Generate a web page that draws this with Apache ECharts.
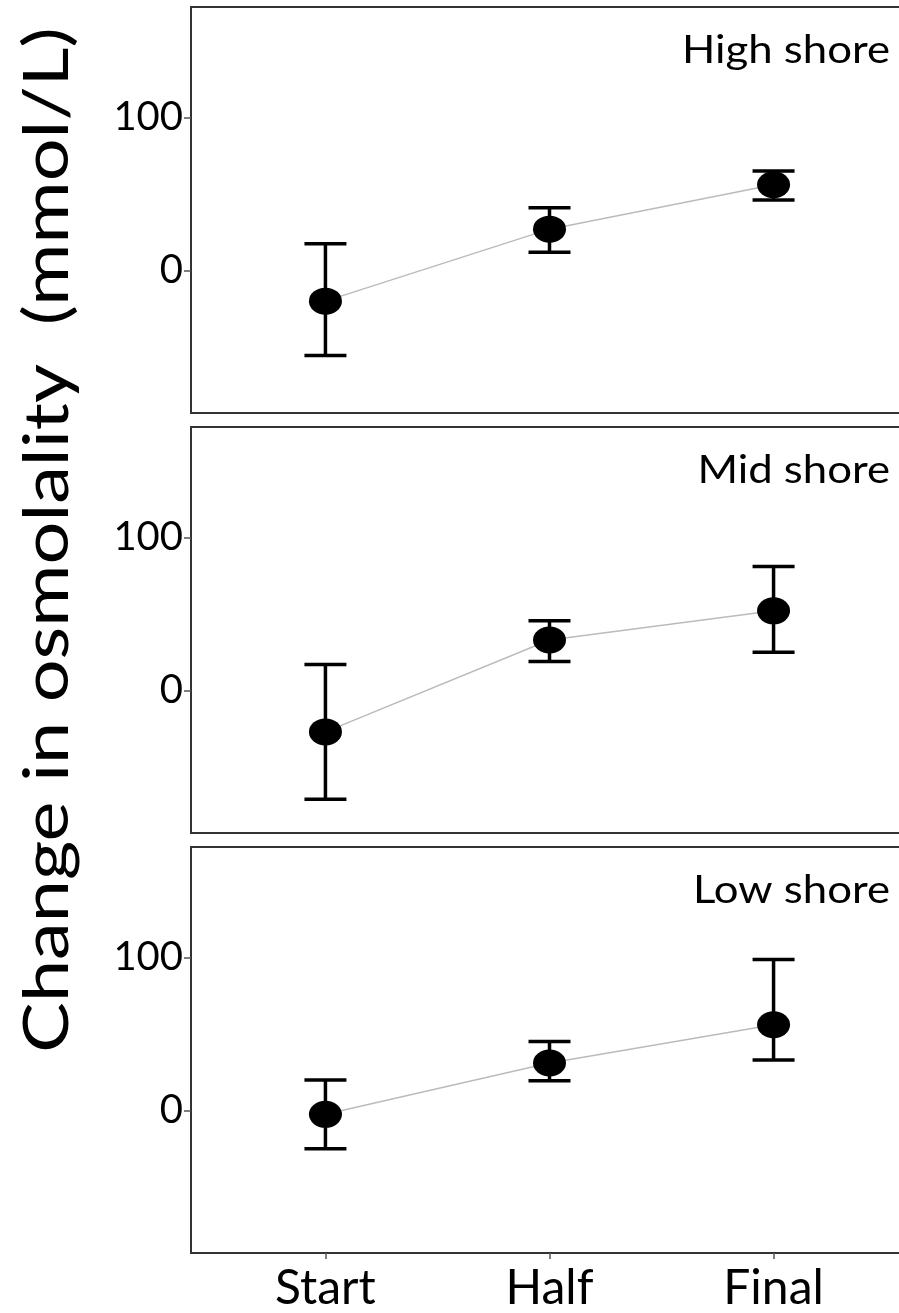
<!DOCTYPE html>
<html>
<head>
<meta charset="utf-8">
<script src="https://cdn.jsdelivr.net/npm/echarts@6/dist/echarts.min.js"></script>
<style>
  html, body { margin: 0; padding: 0; background: #fff; }
  #main { width: 899px; height: 1313px; }
</style>
</head>
<body>
<div id="main"></div>
<script>
"use strict";

// sampling times and shore levels
const categories = ['Start', 'Half', 'Final'];
const shores = ['High shore', 'Mid shore', 'Low shore'];

// mean change in osmolality (mmol/L) and error bar ends, per shore
const highMean = [-20, 27, 56];
const highLow = [-55.5, 12, 46];
const highHigh = [17.5, 41, 65];

const midMean = [-27, 33, 52];
const midLow = [-71, 19, 25];
const midHigh = [17, 45.5, 81];

const lowMean = [-2.5, 31, 56];
const lowLow = [-25, 19.5, 33];
const lowHigh = [20, 45, 98.5];

const yTicks = [0, 100];

const means = [highMean, midMean, lowMean];
const lows = [highLow, midLow, lowLow];
const highs = [highHigh, midHigh, lowHigh];

const FONT = 'Lato';
const gridTops = [7, 427, 847];
const gridHeight = 406;
const axisColor = '#333';

let myChart = echarts.init(document.getElementById('main'));

let grids = [], xAxes = [], yAxes = [], series = [], labels = [];

for (let i = 0; i < 3; i++) {
    const last = i === 2;
    grids.push({
        left: 191, top: gridTops[i], right: -9, height: gridHeight,
        outerBoundsMode: 'none', show: false
    });
    // bottom axis
    xAxes.push({
        gridIndex: i, type: 'value', min: 0.4, max: 3.6, position: 'bottom',
        splitLine: { show: false },
        axisLine: { show: true, onZero: false, lineStyle: { color: axisColor, width: 2 } },
        axisTick: {
            show: last, length: 6, customValues: [1, 2, 3],
            lineStyle: { color: '#555', width: 1.5 }
        },
        axisLabel: {
            show: last, customValues: [1, 2, 3], margin: 12,
            fontFamily: FONT, fontSize: 48, color: '#000',
            formatter: function (v) { return categories[Math.round(v) - 1]; }
        }
    });
    // top frame line
    xAxes.push({
        gridIndex: i, type: 'value', min: 0.4, max: 3.6, position: 'top',
        splitLine: { show: false },
        axisLine: { show: true, onZero: false, lineStyle: { color: axisColor, width: 2 } },
        axisTick: { show: false },
        axisLabel: { show: false }
    });
    yAxes.push({
        gridIndex: i, type: 'value', min: -93, max: 172,
        splitLine: { show: false },
        axisLine: { show: true, onZero: false, lineStyle: { color: axisColor, width: 2 } },
        axisTick: { length: 7, customValues: yTicks, lineStyle: { color: '#555', width: 1.5 } },
        axisLabel: {
            customValues: yTicks, margin: 8,
            fontFamily: FONT, fontSize: 40, color: '#000'
        }
    });

    const pts = means[i].map(function (m, k) { return [k + 1, m]; });
    const bars = means[i].map(function (m, k) { return [k + 1, lows[i][k], highs[i][k]]; });
    const xi = i * 2;

    series.push({
        type: 'line', xAxisIndex: xi, yAxisIndex: i,
        data: pts, symbol: 'none', z: 2,
        lineStyle: { color: '#bbbbbb', width: 1.5 }
    });
    series.push({
        type: 'custom', xAxisIndex: xi, yAxisIndex: i, z: 3,
        data: bars,
        renderItem: function (params, api) {
            const x = api.value(0);
            const lo = api.coord([x, api.value(1)]);
            const hi = api.coord([x, api.value(2)]);
            const half = 21;
            const style = { stroke: '#000', lineWidth: 3.5 };
            return {
                type: 'group',
                children: [
                    { type: 'line', shape: { x1: lo[0], y1: lo[1], x2: hi[0], y2: hi[1] }, style: style },
                    { type: 'line', shape: { x1: lo[0] - half, y1: lo[1], x2: lo[0] + half, y2: lo[1] }, style: style },
                    { type: 'line', shape: { x1: hi[0] - half, y1: hi[1], x2: hi[0] + half, y2: hi[1] }, style: style }
                ]
            };
        }
    });
    series.push({
        type: 'scatter', xAxisIndex: xi, yAxisIndex: i, z: 4,
        data: pts, symbol: 'circle', symbolSize: [33, 27],
        itemStyle: { color: '#000', opacity: 1 }
    });

    labels.push({
        type: 'text',
        x: 890, y: gridTops[i] + 44,
        scaleX: 1.15,
        style: {
            text: shores[i], fontFamily: FONT, fontSize: 38, fill: '#000',
            align: 'right', verticalAlign: 'middle'
        }
    });
}

labels.push({
    type: 'text',
    x: 48, y: 540,
    rotation: Math.PI / 2,
    scaleX: 1.22,
    style: {
        text: 'Change in osmolality  (mmol/L)',
        fontFamily: FONT, fontSize: 62, fill: '#000',
        align: 'center', verticalAlign: 'middle'
    }
});

let option = {
    animation: false,
    backgroundColor: '#fff',
    grid: grids,
    xAxis: xAxes,
    yAxis: yAxes,
    series: series,
    graphic: labels
};

myChart.setOption(option);

window.addEventListener('resize', function () {
    myChart.resize();
});
</script>
</body>
</html>
